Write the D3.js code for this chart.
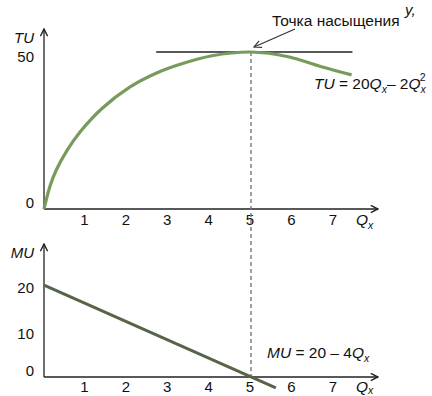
<!DOCTYPE html>
<html>
<head>
<meta charset="utf-8">
<script src="https://cdn.jsdelivr.net/npm/d3@7"></script>
<style>
  body { margin: 0; background: #fff; }
  svg { display: block; font-family: "Liberation Sans", Arial, sans-serif; }
</style>
</head>
<body>
<svg id="chart"></svg>
<script>
// Values
const qTicks = [1, 2, 3, 4, 5, 6, 7];
const tuTicks = [0, 50];
const muTicks = [0, 10, 20];

// TU curve (hand-drawn in the source, so read point by point)
const tuQ = [0, 0.15, 0.3, 0.55, 0.87, 1.4, 2.07, 2.72, 3.27, 4.06, 5, 5.9, 6.7, 7.43];
const tuVal = [0, 7.5, 12.5, 18.5, 24.5, 32, 38.8, 43.3, 46, 48.8, 50, 48.5, 45.3, 42.7];

// MU line
const muQ = [0, 5.6];
const muVal = [20.2, -2.4];

const saturationQ = 5;
const saturationTU = 50;

const chart = {
    width: 432,
    height: 396,
    svg: null
};

function init() {
    chart.svg = d3.select("#chart")
        .attr("width", chart.width)
        .attr("height", chart.height);
    const svg = chart.svg;

    // arrow markers
    const defs = svg.append("defs");
    defs.append("marker")
        .attr("id", "arrow")
        .attr("viewBox", "0 0 10 10")
        .attr("refX", 9)
        .attr("refY", 5)
        .attr("markerWidth", 9)
        .attr("markerHeight", 9)
        .attr("markerUnits", "userSpaceOnUse")
        .attr("orient", "auto")
        .append("path")
        .attr("d", "M1,1 L9,5 L1,9")
        .attr("fill", "none")
        .attr("stroke", "#222")
        .attr("stroke-width", 1.6);
    defs.append("marker")
        .attr("id", "arrowSmall")
        .attr("viewBox", "0 0 10 10")
        .attr("refX", 9)
        .attr("refY", 5)
        .attr("markerWidth", 9)
        .attr("markerHeight", 9)
        .attr("markerUnits", "userSpaceOnUse")
        .attr("orient", "auto")
        .append("path")
        .attr("d", "M1,1 L9,5 L1,9")
        .attr("fill", "none")
        .attr("stroke", "#333")
        .attr("stroke-width", 1.3);

    const x = d3.scaleLinear().domain([0, 8]).range([44, 44 + 8 * 41.4]);
    const yTop = d3.scaleLinear().domain([0, 50]).range([209, 52]);
    const yBot = d3.scaleLinear().domain([0, 20]).range([377, 286]);

    drawPanel(svg, x, yTop, {
        yLabel: "TU", yTicks: tuTicks, axisTop: 29, labelY: 225, subDy: 4,
        tickDy: d => d === 0 ? -1 : 10
    });
    drawPanel(svg, x, yBot, {
        yLabel: "MU", yTicks: muTicks, axisTop: 244, labelY: 392, subDy: 2,
        tickDy: d => d === 0 ? -1 : 7
    });

    // saturation line + dashed drop line
    svg.append("line")
        .attr("x1", x(2.71)).attr("x2", x(7.45))
        .attr("y1", yTop(saturationTU)).attr("y2", yTop(saturationTU))
        .attr("stroke", "#222")
        .attr("stroke-width", 1.3);
    svg.append("line")
        .attr("x1", x(saturationQ)).attr("x2", x(saturationQ))
        .attr("y1", yTop(saturationTU)).attr("y2", yBot(0))
        .attr("stroke", "#777")
        .attr("stroke-width", 1.4)
        .attr("stroke-dasharray", "4,3");

    // TU curve
    const tuData = tuQ.map((q, i) => ({ q, v: tuVal[i] }));
    svg.append("path")
        .datum(tuData)
        .attr("fill", "none")
        .attr("stroke", "#789a5c")
        .attr("stroke-width", 3.2)
        .attr("d", d3.line().x(d => x(d.q)).y(d => yTop(d.v)).curve(d3.curveCatmullRom.alpha(0.5)));

    // MU line
    const muData = muQ.map((q, i) => ({ q, v: muVal[i] }));
    svg.append("path")
        .datum(muData)
        .attr("fill", "none")
        .attr("stroke", "#58644a")
        .attr("stroke-width", 3)
        .attr("d", d3.line().x(d => x(d.q)).y(d => yBot(d.v)));

    // annotation
    svg.append("text")
        .attr("x", 272).attr("y", 26)
        .attr("font-size", 15.5)
        .attr("fill", "#111")
        .text("Точка насыщения");
    svg.append("line")
        .attr("x1", 295).attr("y1", 29)
        .attr("x2", x(saturationQ) + 3).attr("y2", yTop(saturationTU) - 5)
        .attr("stroke", "#333")
        .attr("stroke-width", 1.2)
        .attr("marker-end", "url(#arrowSmall)");

    // formulas
    const tuF = svg.append("text")
        .attr("x", 314).attr("y", 89)
        .attr("font-size", 15.5)
        .attr("fill", "#111");
    tuF.append("tspan").attr("font-style", "italic").text("TU");
    tuF.append("tspan").text(" = 20");
    tuF.append("tspan").attr("font-style", "italic").text("Q");
    tuF.append("tspan").attr("font-style", "italic").attr("font-size", 10.5).attr("dy", 4).text("x");
    tuF.append("tspan").attr("dy", -4).text("– 2");
    tuF.append("tspan").attr("font-style", "italic").text("Q");
    tuF.append("tspan").attr("font-style", "italic").attr("font-size", 10.5).attr("dy", 4).text("x");
    tuF.append("tspan").attr("font-size", 10.5).attr("dx", -6).attr("dy", -12).text("2");

    const muF = svg.append("text")
        .attr("x", 267).attr("y", 358)
        .attr("font-size", 15.5)
        .attr("fill", "#111");
    muF.append("tspan").attr("font-style", "italic").text("MU");
    muF.append("tspan").text(" = 20 – 4");
    muF.append("tspan").attr("font-style", "italic").text("Q");
    muF.append("tspan").attr("font-style", "italic").attr("font-size", 10.5).attr("dy", 4).text("x");

    // glyph at the top right corner of the source (cropped there)
    svg.append("text")
        .attr("x", 405).attr("y", 15)
        .attr("font-size", 15)
        .attr("font-style", "italic")
        .attr("fill", "#111")
        .text("у,");
}

function drawPanel(svg, x, y, opt) {
    const x0 = x(0);
    const y0 = y(0);
    const g = svg.append("g");

    // axes with arrows
    g.append("line")
        .attr("x1", x0).attr("y1", y0)
        .attr("x2", x0).attr("y2", opt.axisTop)
        .attr("stroke", "#222").attr("stroke-width", 1.3)
        .attr("marker-end", "url(#arrow)");
    g.append("line")
        .attr("x1", x0).attr("y1", y0)
        .attr("x2", 378).attr("y2", y0)
        .attr("stroke", "#222").attr("stroke-width", 1.3)
        .attr("marker-end", "url(#arrow)");

    // x tick labels
    g.selectAll("text.xt")
        .data(qTicks)
        .join("text")
        .attr("class", "xt")
        .attr("x", d => x(d) - 1)
        .attr("y", opt.labelY)
        .attr("text-anchor", "middle")
        .attr("font-size", 15)
        .attr("fill", "#111")
        .text(d => d);

    const ql = g.append("text")
        .attr("x", 356).attr("y", opt.labelY)
        .attr("font-size", 15.5)
        .attr("font-style", "italic")
        .attr("fill", "#111");
    ql.append("tspan").text("Q");
    ql.append("tspan").attr("font-size", 10.5).attr("dy", opt.subDy).text("x");

    // y tick labels
    g.selectAll("text.yt")
        .data(opt.yTicks)
        .join("text")
        .attr("class", "yt")
        .attr("x", 34)
        .attr("y", d => y(d))
        .attr("dy", opt.tickDy)
        .attr("text-anchor", "end")
        .attr("font-size", 15)
        .attr("fill", "#111")
        .text(d => d);

    g.append("text")
        .attr("x", 34).attr("y", opt.axisTop + 14)
        .attr("text-anchor", "end")
        .attr("font-size", 15)
        .attr("font-style", "italic")
        .attr("fill", "#111")
        .text(opt.yLabel);
}

init();
</script>
</body>
</html>
